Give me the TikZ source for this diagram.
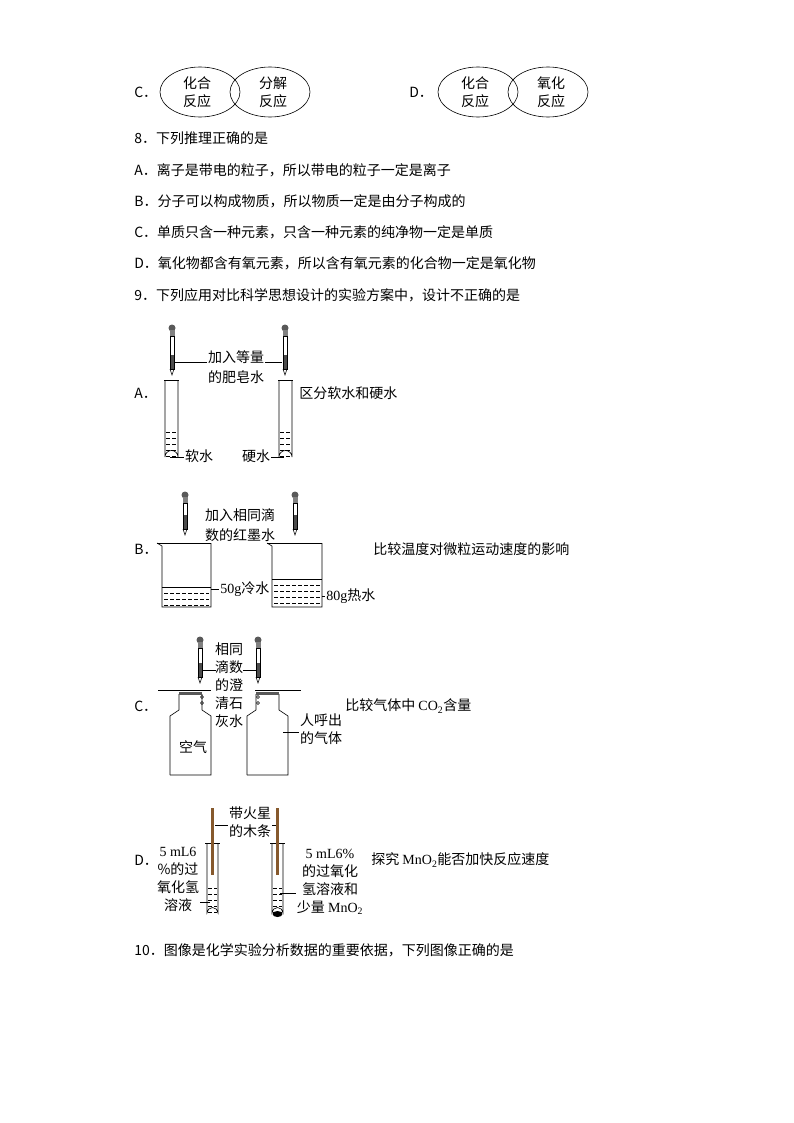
\documentclass[tikz,border=0pt]{standalone}
\usepackage{fontspec}
\setmainfont{Liberation Serif}
\newfontfamily\cjk{Noto Sans CJK SC}
\usetikzlibrary{positioning}
\newcommand\dropper[3]{% x, bulb y, tip y
  \fill[gray!70!black] (#1,#2) circle (3.5);
  \fill[gray] (#1-2.5,#2+2) rectangle (#1+2.5,#2+8);
  \draw[line width=0.5] (#1-2,#2+8) rectangle (#1+2,#3-6);
  \fill[gray!60!black] (#1-1.5,#3-20) rectangle (#1+1.5,#3-6);
  \draw (#1-2,#3-6) -- (#1,#3) -- (#1+2,#3-6);}
\newcommand\liquid[4]{% x1, x2, ytop, ybottom
  \pgfmathtruncatemacro\ytwo{#3+6}%
  \pgfmathtruncatemacro\yend{#4}%
  \foreach \yy in {#3,\ytwo,...,\yend} {\draw[dash pattern=on 4pt off 2pt,line width=0.4] (#1+2,\yy) -- (#2-2,\yy);}}
\begin{document}
\begin{tikzpicture}[x=1pt,y=-1pt,line width=0.6,
  txt/.style={font=\cjk\fontsize{14}{18}\selectfont,inner sep=1pt},
  lbl/.style={txt,anchor=west},
  rtxt/.style={font=\fontsize{14}{18}\selectfont,inner sep=1pt}]
\useasboundingbox (0,0) rectangle (794,1123);
% question 7, options C and D
\node[lbl] (c7) at (133,92) {C．};
\draw (200,92) ellipse (40 and 25);
\draw (270,92) ellipse (40 and 25);
\node[txt,align=center] (hh1) at (197,92) {化合\\反应};
\node[txt,align=center] (fj) at (273,92) {分解\\反应};
\node[lbl] (d7) at (408,92) {D．};
\draw (478,92) ellipse (40 and 25);
\draw (548,92) ellipse (40 and 25);
\node[txt,align=center] (hh2) at (475,92) {化合\\反应};
\node[txt,align=center] (yh) at (551,92) {氧化\\反应};
% question 8
\node[lbl] (q8) at (133,138) {8．下列推理正确的是};
\node[lbl] (q8a) at (133,170) {A．离子是带电的粒子，所以带电的粒子一定是离子};
\node[lbl] (q8b) at (133,201) {B．分子可以构成物质，所以物质一定是由分子构成的};
\node[lbl] (q8c) at (133,232) {C．单质只含一种元素，只含一种元素的纯净物一定是单质};
\node[lbl] (q8d) at (133,263) {D．氧化物都含有氧元素，所以含有氧元素的化合物一定是氧化物};
\node[lbl] (q9) at (133,295) {9．下列应用对比科学思想设计的实验方案中，设计不正确的是};
% option A
\node[lbl] (a9) at (133,393) {A．};
\dropper{172}{328}{375}
\dropper{285}{328}{375}
\foreach \x in {165,279} {
  \draw (\x,380) -- (\x,457) arc (180:360:6.5) -- (\x+13,380);
  \draw (\x-1,380) -- (\x+14,380);
  \liquid{\x-1}{\x+14}{432}{460}}
\node[txt] (fz1) at (236,357) {加入等量};
\node[txt] (fz2) at (236,377) {的肥皂水};
\draw (174,362) -- (fz1.west |- 0,362);
\draw (fz1.east |- 0,362) -- (282,362);
\node[lbl] (qf) at (298,393) {区分软水和硬水};
\node[txt] (rs) at (199,456) {软水};
\node[txt] (ys) at (256,456) {硬水};
\draw (170,457) -- (rs.west |- 0,457);
\draw (ys.east |- 0,457) -- (284,457);
% option B
\node[lbl] (b9) at (133,549) {B．};
\dropper{185}{495}{535}
\dropper{295}{495}{535}
\draw (157,543) -- (162,546) -- (162,607) -- (211,607) -- (211,543);
\draw (157,543) -- (211,543);
\draw (267,543) -- (272,546) -- (272,607) -- (322,607) -- (322,543);
\draw (267,543) -- (322,543);
\draw (162,587) -- (211,587); \liquid{162}{211}{593}{605}
\draw (272,579) -- (322,579); \liquid{272}{322}{585}{605}
\node[txt] (hm1) at (240,515) {加入相同滴};
\node[txt] (hm2) at (240,535) {数的红墨水};
\node[rtxt,anchor=west] (lw) at (219,589) {50g\cjk 冷水};
\node[rtxt,anchor=west] (rw) at (325,596) {80g\cjk 热水};
\draw (211,589) -- (lw.west);
\draw (322,596) -- (rw.west);
\node[lbl] (qb) at (372,549) {比较温度对微粒运动速度的影响};
% option C
\node[lbl] (c9) at (133,706) {C．};
\dropper{200}{640}{683}
\dropper{258}{640}{683}
\foreach \x in {170,247} {
  \draw (\x,775) -- (\x,716) -- (\x+9,710) -- (\x+9,694);
  \draw (\x+32,694) -- (\x+32,710) -- (\x+41,716) -- (\x+41,775) -- (\x,775);
  \fill[gray!70!black] (\x+9,692) rectangle (\x+32,695);}
\draw[line width=1] (158,690) -- (211,690);
\draw[line width=1] (255,690) -- (301,690);
\foreach \x in {202,258} {\draw (\x,697) circle (1.5); \draw (\x,703) circle (1.5);}
\node[txt,align=center] (ch) at (229,685) {相同\\滴数\\的澄\\清石\\灰水};
\draw (202,670) -- (216,670);
\draw (243,670) -- (256,670);
\node[txt] (kq) at (193,747) {空气};
\node[txt,align=center] (hq) at (321,729) {人呼出\\的气体};
\draw (283,732) -- (hq.west |- 0,732);
\node[lbl] (qc) at (344,706) {比较气体中 \fontspec{Liberation Serif}CO\textsubscript{2}\cjk 含量};
% option D
\node[lbl] (d9) at (133,860) {D．};
\foreach \x in {207,272} {
  \draw (\x,843) -- (\x,913) arc (180:360:5.5) -- (\x+11,843);
  \draw (\x-2,843) -- (\x+13,843);
  \liquid{\x-1}{\x+12}{888}{915}
  \fill[brown!70!black] (\x+4,808) rectangle (\x+7,875);}
\fill[black] (277.5,914) ellipse (5 and 3);
\node[txt,align=center] (mt) at (250,822) {带火星\\的木条};
\draw (215,825) -- (mt.west |- 0,825);
\draw (mt.east |- 0,825) -- (276,825);
\node[txt,align=center] (lh) at (178,879) {\fontspec{Liberation Serif}5 mL6\\\%的过\\氧化氢\\溶液};
\draw (lh.east |- 0,902) -- (210,902);
\node[txt,align=center] (rh) at (330,882) {\fontspec{Liberation Serif}5 mL6\%\\的过氧化\\氢溶液和\\少量 \fontspec{Liberation Serif}MnO\textsubscript{2}};
\draw (280,893) -- (rh.west |- 0,893);
\node[lbl] (qd) at (370,860) {探究 \fontspec{Liberation Serif}MnO\textsubscript{2}\cjk 能否加快反应速度};
% question 10
\node[lbl] (q10) at (133,950) {10．图像是化学实验分析数据的重要依据，下列图像正确的是};
\end{tikzpicture}
\end{document}
